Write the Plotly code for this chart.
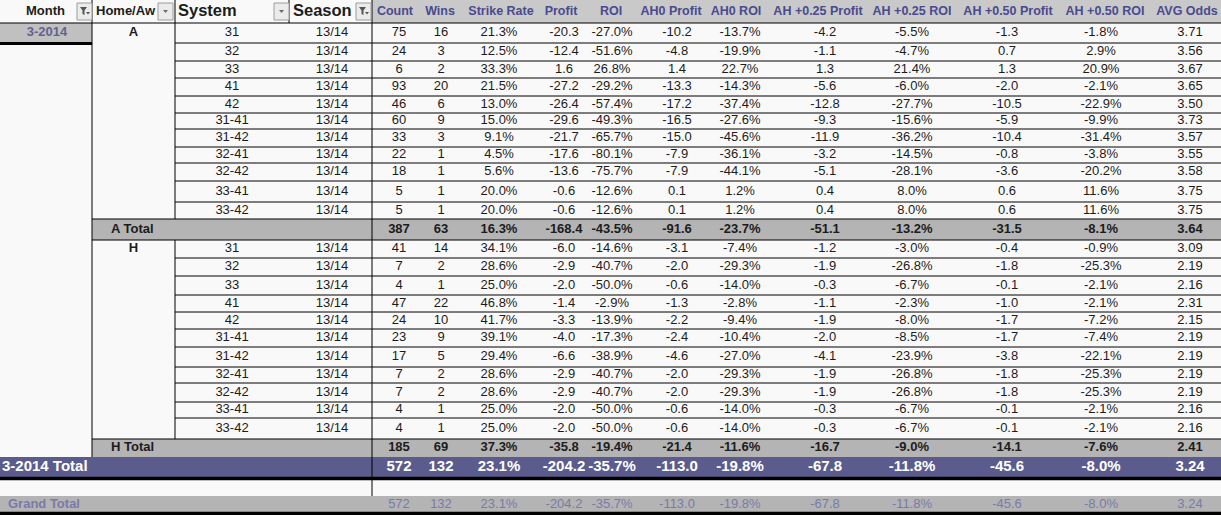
import plotly.graph_objects as go

# =============================================================================
# Pivot table values
# =============================================================================
month = "3-2014"
season = "13/14"
systems = ["31", "32", "33", "41", "42", "31-41", "31-42", "32-41", "32-42", "33-41", "33-42"]
headers = ["Count", "Wins", "Strike Rate", "Profit", "ROI", "AH0 Profit", "AH0 ROI",
           "AH +0.25 Profit", "AH +0.25 ROI", "AH +0.50 Profit", "AH +0.50 ROI", "AVG Odds"]
kinds = ["int", "int", "pct", "f1", "pct", "f1", "pct", "f1", "pct", "f1", "pct", "f2"]

# Away
count_a = [75, 24, 6, 93, 46, 60, 33, 22, 18, 5, 5]
wins_a = [16, 3, 2, 20, 6, 9, 3, 1, 1, 1, 1]
sr_a = [21.3, 12.5, 33.3, 21.5, 13.0, 15.0, 9.1, 4.5, 5.6, 20.0, 20.0]
profit_a = [-20.3, -12.4, 1.6, -27.2, -26.4, -29.6, -21.7, -17.6, -13.6, -0.6, -0.6]
roi_a = [-27.0, -51.6, 26.8, -29.2, -57.4, -49.3, -65.7, -80.1, -75.7, -12.6, -12.6]
ah0p_a = [-10.2, -4.8, 1.4, -13.3, -17.2, -16.5, -15.0, -7.9, -7.9, 0.1, 0.1]
ah0r_a = [-13.7, -19.9, 22.7, -14.3, -37.4, -27.6, -45.6, -36.1, -44.1, 1.2, 1.2]
ah25p_a = [-4.2, -1.1, 1.3, -5.6, -12.8, -9.3, -11.9, -3.2, -5.1, 0.4, 0.4]
ah25r_a = [-5.5, -4.7, 21.4, -6.0, -27.7, -15.6, -36.2, -14.5, -28.1, 8.0, 8.0]
ah50p_a = [-1.3, 0.7, 1.3, -2.0, -10.5, -5.9, -10.4, -0.8, -3.6, 0.6, 0.6]
ah50r_a = [-1.8, 2.9, 20.9, -2.1, -22.9, -9.9, -31.4, -3.8, -20.2, 11.6, 11.6]
odds_a = [3.71, 3.56, 3.67, 3.65, 3.50, 3.73, 3.57, 3.55, 3.58, 3.75, 3.75]

# Home
count_h = [41, 7, 4, 47, 24, 23, 17, 7, 7, 4, 4]
wins_h = [14, 2, 1, 22, 10, 9, 5, 2, 2, 1, 1]
sr_h = [34.1, 28.6, 25.0, 46.8, 41.7, 39.1, 29.4, 28.6, 28.6, 25.0, 25.0]
profit_h = [-6.0, -2.9, -2.0, -1.4, -3.3, -4.0, -6.6, -2.9, -2.9, -2.0, -2.0]
roi_h = [-14.6, -40.7, -50.0, -2.9, -13.9, -17.3, -38.9, -40.7, -40.7, -50.0, -50.0]
ah0p_h = [-3.1, -2.0, -0.6, -1.3, -2.2, -2.4, -4.6, -2.0, -2.0, -0.6, -0.6]
ah0r_h = [-7.4, -29.3, -14.0, -2.8, -9.4, -10.4, -27.0, -29.3, -29.3, -14.0, -14.0]
ah25p_h = [-1.2, -1.9, -0.3, -1.1, -1.9, -2.0, -4.1, -1.9, -1.9, -0.3, -0.3]
ah25r_h = [-3.0, -26.8, -6.7, -2.3, -8.0, -8.5, -23.9, -26.8, -26.8, -6.7, -6.7]
ah50p_h = [-0.4, -1.8, -0.1, -1.0, -1.7, -1.7, -3.8, -1.8, -1.8, -0.1, -0.1]
ah50r_h = [-0.9, -25.3, -2.1, -2.1, -7.2, -7.4, -22.1, -25.3, -25.3, -2.1, -2.1]
odds_h = [3.09, 2.19, 2.16, 2.31, 2.15, 2.19, 2.19, 2.19, 2.19, 2.16, 2.16]

a_total = [387, 63, 16.3, -168.4, -43.5, -91.6, -23.7, -51.1, -13.2, -31.5, -8.1, 3.64]
h_total = [185, 69, 37.3, -35.8, -19.4, -21.4, -11.6, -16.7, -9.0, -14.1, -7.6, 2.41]
month_total = [572, 132, 23.1, -204.2, -35.7, -113.0, -19.8, -67.8, -11.8, -45.6, -8.0, 3.24]
grand_total = [572, 132, 23.1, -204.2, -35.7, -113.0, -19.8, -67.8, -11.8, -45.6, -8.0, 3.24]

a_cols = [count_a, wins_a, sr_a, profit_a, roi_a, ah0p_a, ah0r_a, ah25p_a, ah25r_a, ah50p_a, ah50r_a, odds_a]
h_cols = [count_h, wins_h, sr_h, profit_h, roi_h, ah0p_h, ah0r_h, ah25p_h, ah25r_h, ah50p_h, ah50r_h, odds_h]

# =============================================================================
# Sheet geometry (pixels) & styling
# =============================================================================
W, H = 1221, 515
FONT = "Arial, Liberation Sans, sans-serif"
BG = "#f9f9f9"
TOT_GREY = "#b4b4b4"
HEAD_GREY = "#c9c9c9"
PURPLE = "#5b5b8d"
HEAD_TXT = "#4a4a8e"
GT_TXT = "#7a7aa8"
INK = "#1c1c1c"

val_x = [399, 441, 499, 564, 612, 677, 740, 825, 912, 1007, 1101, 1190]
head_x = [395, 440, 501, 561, 611, 671, 736, 818, 912, 1008, 1105, 1187]
X_MONTH, X_HA, X_SYS, X_SEA = 92, 175, 289, 372

a_edges = [23, 43, 61, 78, 96, 113, 129, 147, 163, 181, 202, 219]
h_edges = [240, 258, 276, 295, 312, 329, 347, 367, 383, 402, 418, 439]
A_TOT = (219, 240)
H_TOT = (439, 457)
M_TOT = (457, 477)
G_TOT = (496, 512)


def mids(edges):
    return [(edges[i] + edges[i + 1]) / 2 for i in range(len(edges) - 1)]


a_mid, h_mid = mids(a_edges), mids(h_edges)


def fmt(v, kind):
    if kind == "int":
        return f"{v:d}"
    if kind == "pct":
        return f"{v:.1f}%"
    if kind == "f2":
        return f"{v:.2f}"
    return f"{v:.1f}"


shapes = []


def rect(x0, y0, x1, y1, fill, line=None):
    shapes.append(dict(type="rect", x0=x0, x1=x1, y0=y0, y1=y1, fillcolor=fill, layer="below",
                       line=dict(width=1 if line else 0, color=line or fill)))


def hline(y, x0, x1, w=1, c="#000000"):
    shapes.append(dict(type="line", x0=x0, x1=x1, y0=y, y1=y, layer="below", line=dict(width=w, color=c)))


def vline(x, y0, y1, w=1, c="#000000"):
    shapes.append(dict(type="line", x0=x, x1=x, y0=y0, y1=y1, layer="below", line=dict(width=w, color=c)))


fig = go.Figure()


def text(xs, ys, texts, size=13, color=INK, bold=False, pos="middle center"):
    fig.add_trace(go.Scatter(
        x=xs, y=ys, text=texts, mode="text", textposition=pos, cliponaxis=False,
        textfont=dict(family=FONT, size=size, color=color, weight="bold" if bold else "normal"),
        hoverinfo="skip", showlegend=False))


# backgrounds
rect(X_SEA, 0, W, 23, HEAD_GREY)
rect(0, 23, X_MONTH, 42, "#c0c0c0")
rect(X_MONTH, A_TOT[0], W, A_TOT[1], TOT_GREY)
rect(X_MONTH, H_TOT[0], W, H_TOT[1], TOT_GREY)
rect(0, M_TOT[0], W, M_TOT[1], PURPLE)
rect(0, G_TOT[0], W, G_TOT[1], TOT_GREY)

# grid lines
hline(23, 0, W)
for y in a_edges[1:-1] + h_edges[1:-1]:
    hline(y, X_HA, W)
for y in [A_TOT[0], A_TOT[1], H_TOT[0]]:
    hline(y, X_MONTH, W)
hline(43.5, 0, X_MONTH, w=3)
hline(478.5, 0, W, w=3.5)
hline(513.5, 0, W, w=3.5)
vline(X_MONTH, 0, H_TOT[1])
vline(X_HA, 0, A_TOT[0])
vline(X_HA, A_TOT[1], H_TOT[0])
vline(X_SYS, 0, 23)
vline(X_SEA, 0, G_TOT[0])

# header filter buttons
for bx, funnel in [(77, True), (158, False), (274, False), (356, True)]:
    rect(bx, 3, bx + 15, 20, "#ebebeb", line="#9c9c9c")
    if funnel:
        shapes.append(dict(type="path", layer="below", fillcolor="#555555", line=dict(width=0),
                           path=f"M {bx+3},{7} L {bx+10},{7} L {bx+7.5},{10.5} L {bx+7.5},{15} "
                                f"L {bx+5.5},{14} L {bx+5.5},{10.5} Z"))
        shapes.append(dict(type="path", layer="below", fillcolor="#555555", line=dict(width=0),
                           path=f"M {bx+9},{12} L {bx+13},{12} L {bx+11},{14.5} Z"))
    else:
        shapes.append(dict(type="path", layer="below", fillcolor="#6a6a6a", line=dict(width=0),
                           path=f"M {bx+5},{10} L {bx+10},{10} L {bx+7.5},{13} Z"))

# header labels
text([65], [11.5], ["Month"], size=13, bold=True, pos="middle left")
text([96], [11.5], ["Home/Aw"], size=13, bold=True, pos="middle right")
text([178], [11.5], ["System"], size=16.5, bold=True, pos="middle right")
text([293], [11.5], ["Season"], size=16.5, bold=True, pos="middle right")
text(head_x, [11.5] * len(headers), headers, size=12.5, color=HEAD_TXT, bold=True)

# row labels
text([47], [33], [month], size=13, color="#62628f", bold=True)
text([(X_MONTH + X_HA) / 2], [a_mid[0]], ["A"], size=13, bold=True)
text([(X_MONTH + X_HA) / 2], [h_mid[0]], ["H"], size=13, bold=True)
text([232] * len(systems), a_mid, systems)
text([232] * len(systems), h_mid, systems)
text([332] * len(systems), a_mid, [season] * len(systems))
text([332] * len(systems), h_mid, [season] * len(systems))
text([111], [sum(A_TOT) / 2], ["A Total"], size=13, bold=True, pos="middle right")
text([111], [sum(H_TOT) / 2], ["H Total"], size=13, bold=True, pos="middle right")
text([2], [sum(M_TOT) / 2], [f"{month} Total"], size=15, color="#ffffff", bold=True, pos="middle right")
text([8], [sum(G_TOT) / 2 + 0.5], ["Grand Total"], size=13, color=GT_TXT, bold=True, pos="middle right")

# values
for j, kind in enumerate(kinds):
    text([val_x[j]] * len(a_mid), a_mid, [fmt(v, kind) for v in a_cols[j]])
    text([val_x[j]] * len(h_mid), h_mid, [fmt(v, kind) for v in h_cols[j]])
text(val_x, [sum(A_TOT) / 2] * 12, [fmt(v, k) for v, k in zip(a_total, kinds)], bold=True)
text(val_x, [sum(H_TOT) / 2] * 12, [fmt(v, k) for v, k in zip(h_total, kinds)], bold=True)
text(val_x, [sum(M_TOT) / 2] * 12, [fmt(v, k) for v, k in zip(month_total, kinds)],
     size=15, color="#ffffff", bold=True)
text(val_x, [sum(G_TOT) / 2 + 0.5] * 12, [fmt(v, k) for v, k in zip(grand_total, kinds)],
     size=13, color=GT_TXT)

fig.update_layout(
    width=W, height=H, autosize=False,
    margin=dict(l=0, r=0, t=0, b=0, pad=0),
    paper_bgcolor=BG, plot_bgcolor=BG,
    shapes=shapes,
    xaxis=dict(range=[0, W], visible=False, fixedrange=True),
    yaxis=dict(range=[H, 0], visible=False, fixedrange=True),
)
# the page's default body margin would push the sheet 8px off the window
fig.write_html("out.html", config={"displayModeBar": False},
               post_script="document.body.style.margin='0px';")
